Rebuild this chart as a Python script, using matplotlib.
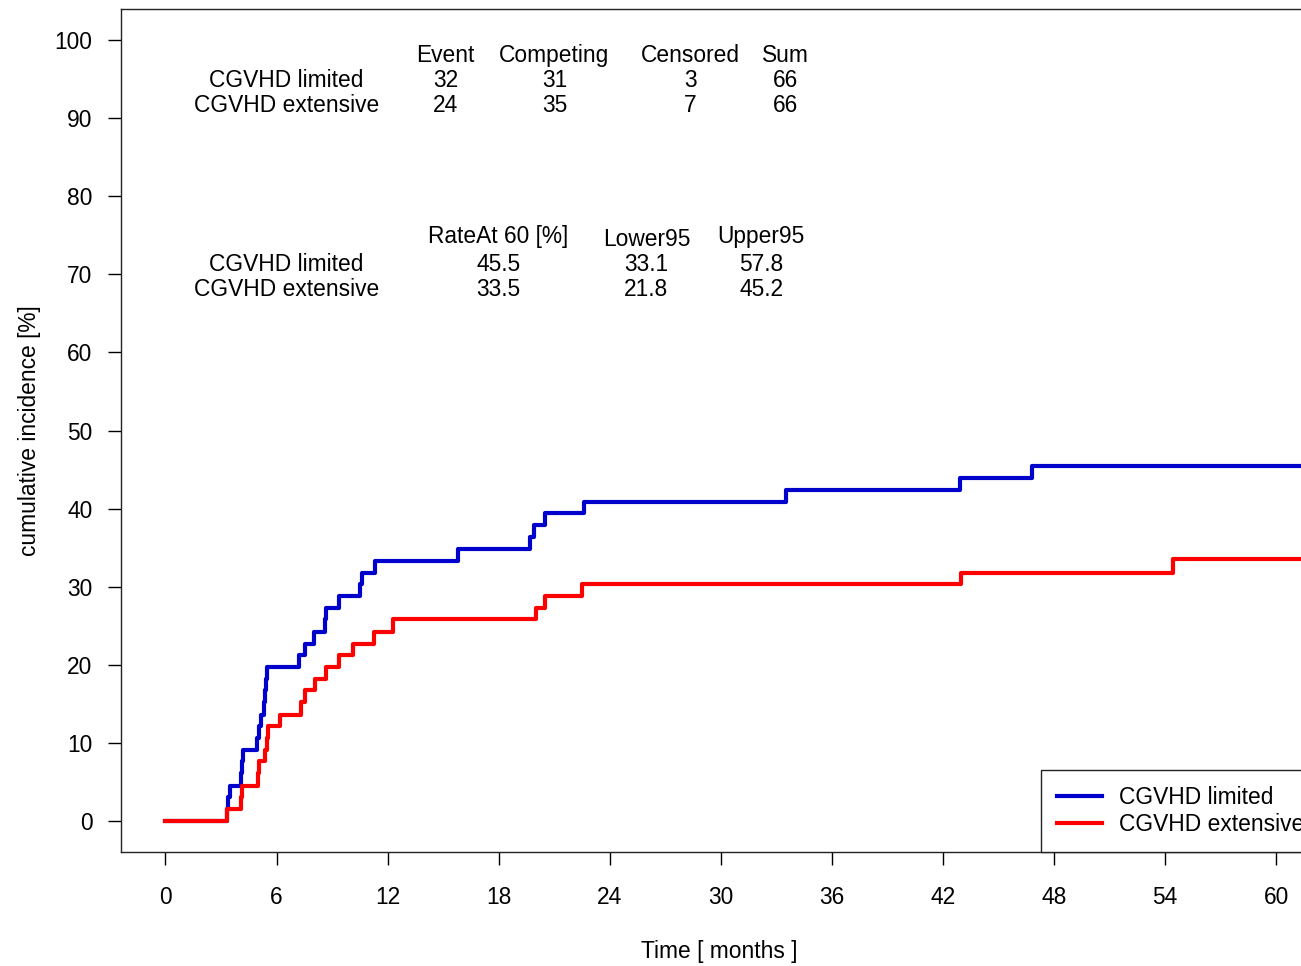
import matplotlib
matplotlib.use("Agg")
import matplotlib.pyplot as plt

plt.rcParams['font.family'] = ['Liberation Sans', 'DejaVu Sans']
FS = 16.4

# cumulative incidence step curves (months, percent)
limited_t = [0, 3.3, 3.4, 3.5, 4.1, 4.15, 4.2, 4.95, 5.05, 5.15, 5.3, 5.4, 5.45, 5.5,
             7.2, 7.55, 8.0, 8.6, 8.65, 9.35, 10.5, 10.6, 11.3, 15.8, 19.7, 19.9,
             20.5, 22.6, 33.5, 42.9, 46.8, 63.0]
limited_y = [0, 1.5, 3.0, 4.5, 6.1, 7.6, 9.1, 10.6, 12.1, 13.6, 15.2, 16.7, 18.2, 19.7,
             21.2, 22.7, 24.2, 25.8, 27.3, 28.8, 30.3, 31.8, 33.3, 34.8, 36.4, 37.9,
             39.4, 40.9, 42.4, 43.9, 45.5, 45.5]

extensive_t = [0, 3.3, 4.1, 4.15, 5.0, 5.05, 5.4, 5.5, 5.55, 6.2, 7.3, 7.55, 8.1, 8.65,
               9.35, 10.15, 11.25, 12.3, 20.0, 20.5, 22.5, 43.0, 54.4, 63.0]
extensive_y = [0, 1.5, 3.0, 4.5, 6.1, 7.6, 9.1, 10.6, 12.1, 13.6, 15.2, 16.7, 18.2, 19.7,
               21.2, 22.7, 24.2, 25.8, 27.3, 28.8, 30.3, 31.8, 33.5, 33.5]

groups = ['CGVHD limited', 'CGVHD extensive']
count_cols = ['Event', 'Competing', 'Censored', 'Sum']
count_vals = [['32', '31', '3', '66'], ['24', '35', '7', '66']]
rate_cols = ['RateAt 60 [%]', 'Lower95', 'Upper95']
rate_vals = [['45.5', '33.1', '57.8'], ['33.5', '21.8', '45.2']]

x_ticks = list(range(0, 61, 6))
y_ticks = list(range(0, 101, 10))

fig = plt.figure(figsize=(13.01, 9.66), dpi=100)
# axes box runs past the right edge of the picture, as in the original
ax = fig.add_axes([121 / 1301, 114 / 966, 1199.6 / 1301, 843 / 966])

ax.step(limited_t, limited_y, where='post', color='#0000CD', lw=3, label=groups[0])
ax.step(extensive_t, extensive_y, where='post', color='#FF0000', lw=3, label=groups[1])

ax.set_xlim(-2.4, 62.4)
ax.set_ylim(-4, 104)
ax.set_xticks(x_ticks)
ax.set_yticks(y_ticks)
ax.tick_params(axis='both', labelsize=FS, length=9.5, width=1, direction='out')
ax.tick_params(axis='x', pad=15)
ax.tick_params(axis='y', pad=11)
for s in ax.spines.values():
    s.set_linewidth(1)
    s.set_color('#222222')

ax.set_xlabel('Time [ months ]', fontsize=FS)
ax.set_ylabel('cumulative incidence [%]', fontsize=FS)
ax.xaxis.set_label_coords(0.499, -0.104)
ax.yaxis.set_label_coords(-0.067, 0.5)

# summary tables written on the plot
col_x1 = [15.12, 21.01, 28.35, 33.48]
for name, xc in zip(count_cols, col_x1):
    ax.text(xc, 98.1, name, ha='center', va='center', fontsize=FS)
for row, yc in zip(range(2), [94.9, 91.7]):
    ax.text(6.53, yc, groups[row], ha='center', va='center', fontsize=FS)
    for v, xc in zip(count_vals[row], col_x1):
        ax.text(xc, yc, v, ha='center', va='center', fontsize=FS)

col_x2 = [17.98, 25.98, 32.19]
for name, xc, yc in zip(rate_cols, col_x2, [74.8, 74.5, 74.8]):
    ax.text(xc, yc, name, ha='center', va='center', fontsize=FS)
for row, yc in zip(range(2), [71.3, 68.0]):
    ax.text(6.53, yc, groups[row], ha='center', va='center', fontsize=FS)
    for v, xc in zip(rate_vals[row], col_x2):
        ax.text(xc, yc, v, ha='center', va='center', fontsize=FS)

leg = ax.legend(loc='lower right', borderaxespad=0, fontsize=FS, fancybox=False,
                framealpha=1, edgecolor='#222222', handlelength=2.0,
                handletextpad=0.75, labelspacing=0.2, borderpad=0.7)
leg.get_frame().set_linewidth(1)

fig.savefig('out.png', dpi=100)
